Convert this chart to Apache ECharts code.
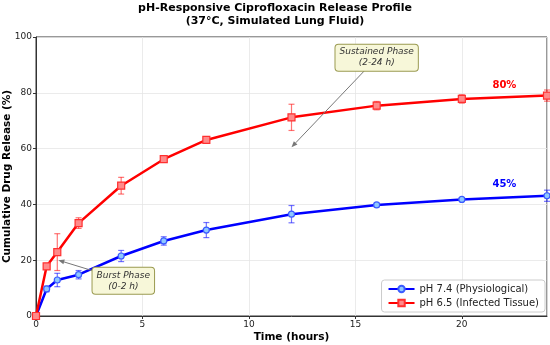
<!DOCTYPE html>
<html><head><meta charset="utf-8">
<script src="https://cdn.jsdelivr.net/npm/echarts@6/dist/echarts.min.js"></script>
<style>html,body{margin:0;padding:0;background:#fff}#c{width:550px;height:345px}</style>
</head><body><div id="c"></div>
<script>
const times = [0, 0.5, 1, 2, 4, 6, 8, 12, 16, 20, 24];
const ph74 = [0, 9.7, 12.9, 14.8, 21.5, 26.9, 30.8, 36.5, 39.8, 41.8, 43.1];
const ph74Err = [0, 1.0, 2.4, 1.5, 2.0, 1.5, 2.7, 3.1, 0.6, 0.6, 2.0];
const ph65 = [0, 17.8, 22.9, 33.3, 46.7, 56.2, 63.1, 71.2, 75.4, 77.8, 79.0];
const ph65Err = [0, 1.0, 6.6, 1.9, 3.0, 1.0, 1.0, 4.7, 1.5, 1.5, 2.0];
const xTicks = [0, 5, 10, 15, 20];
const yTicks = [0, 20, 40, 60, 80, 100];
const F = 'DejaVu Sans';

function pairs(v){ return times.map((t,i)=>[t, v[i]]); }
function errData(v, e){ return times.map((t,i)=>[t, v[i]-e[i], v[i]+e[i]]); }
function errSeries(v, e, color){
  return {
    type:'custom', z:3, silent:true,
    data: errData(v,e),
    renderItem(params, api){
      const x = api.value(0);
      const lo = api.coord([x, api.value(1)]);
      const hi = api.coord([x, api.value(2)]);
      const w = 3;
      const st = {stroke:color, lineWidth:1.2, opacity:0.55};
      return {type:'group', children:[
        {type:'line', shape:{x1:lo[0],y1:lo[1],x2:hi[0],y2:hi[1]}, style:st},
        {type:'line', shape:{x1:lo[0]-w,y1:lo[1],x2:lo[0]+w,y2:lo[1]}, style:st},
        {type:'line', shape:{x1:hi[0]-w,y1:hi[1],x2:hi[0]+w,y2:hi[1]}, style:st}
      ]};
    }
  };
}

const chart = echarts.init(document.getElementById('c'));
chart.setOption({
  animation:false,
  title:{text:'pH-Responsive Ciprofloxacin Release Profile\n(37°C, Simulated Lung Fluid)', left:'center', top:-3,
    textStyle:{fontFamily:F, fontSize:11, fontWeight:'bold', color:'#000', lineHeight:13}},
  grid:{left:36, right:3, top:37, bottom:29, containLabel:false, outerBoundsMode:'none',
    show:true, borderColor:'#333', borderWidth:1, backgroundColor:'transparent'},
  legend:{right:5, bottom:33, orient:'vertical', itemWidth:26, itemHeight:8, itemGap:4,
    backgroundColor:'rgba(255,255,255,0.85)', borderColor:'#ccc', borderWidth:1, borderRadius:3, padding:[4,6,4,6],
    textStyle:{fontFamily:F, fontSize:10, color:'#222'},
    data:['pH 7.4 (Physiological)','pH 6.5 (Infected Tissue)']},
  xAxis:{type:'value', min:0, max:24, interval:5,
    name:'Time (hours)', nameLocation:'middle', nameGap:16, nameMoveOverlap:false,
    nameTextStyle:{fontFamily:F, fontSize:10.5, fontWeight:'bold', color:'#000'},
    axisLine:{show:true, lineStyle:{color:'#333'}}, axisTick:{show:true, length:3, lineStyle:{color:'#333'}},
    axisLabel:{fontFamily:F, fontSize:9, color:'#222', margin:4, showMaxLabel:false},
    splitLine:{show:true, lineStyle:{color:'#e6e6e6', width:0.8}}},
  yAxis:{type:'value', min:0, max:100, interval:20,
    name:'Cumulative Drug Release (%)', nameLocation:'middle', nameGap:23, nameMoveOverlap:false,
    nameTextStyle:{fontFamily:F, fontSize:10.5, fontWeight:'bold', color:'#000'},
    axisLine:{show:true, lineStyle:{color:'#333'}}, axisTick:{show:true, length:3, lineStyle:{color:'#333'}},
    axisLabel:{fontFamily:F, fontSize:9, color:'#222', margin:4},
    splitLine:{show:true, lineStyle:{color:'#e6e6e6', width:0.8}}},
  series:[
    errSeries(ph74, ph74Err, '#0000ff'),
    errSeries(ph65, ph65Err, '#ff0000'),
    {name:'pH 7.4 (Physiological)', type:'line', data:pairs(ph74), z:4,
      symbol:'circle', symbolSize:6, showAllSymbol:true,
      lineStyle:{color:'#0000ff', width:2.5},
      itemStyle:{color:'#8ec8ff', borderColor:'#3b5bff', borderWidth:1.2}},
    {name:'pH 6.5 (Infected Tissue)', type:'line', data:pairs(ph65), z:4,
      symbol:'rect', symbolSize:7, showAllSymbol:true,
      lineStyle:{color:'#ff0000', width:2.5},
      itemStyle:{color:'#ff8a8a', borderColor:'#ff3030', borderWidth:1.2}}
  ]
});

function px(p){ return chart.convertToPixel({gridIndex:0}, p); }
function box(cx, cy, text){
  return {type:'text', x:cx, y:cy, z:20,
    style:{text:text, fontFamily:F, fontSize:9, fontStyle:'italic', fill:'#333', align:'center', verticalAlign:'middle',
      lineHeight:11, backgroundColor:'#f7f7d9', borderColor:'#9a9a50', borderWidth:1, borderRadius:3, padding:[2,4,2,4]}};
}
function arrow(a, b){
  const ang = Math.atan2(b[1]-a[1], b[0]-a[0]);
  const L = 6, W = 2.5;
  const bx = b[0]-L*Math.cos(ang), by = b[1]-L*Math.sin(ang);
  return [
    {type:'line', z:19, shape:{x1:a[0],y1:a[1],x2:bx,y2:by}, style:{stroke:'#777', lineWidth:1}},
    {type:'polygon', z:19, shape:{points:[[b[0],b[1]],[bx+W*Math.sin(ang), by-W*Math.cos(ang)],[bx-W*Math.sin(ang), by+W*Math.cos(ang)]]}, style:{fill:'#777'}}
  ];
}
const burstBox = px([4.1, 12.6]);
const sustBox = px([16.0, 92.6]);
const els = [];
els.push(...arrow(px([2.8, 15.9]), px([1.05, 20])));
els.push(...arrow(px([15.5, 88.5]), px([12, 60.5])));
els.push(box(burstBox[0], burstBox[1], 'Burst Phase\n(0-2 h)'));
els.push(box(sustBox[0], sustBox[1], 'Sustained Phase\n(2-24 h)'));
const l80 = px([22.0, 82.8]); const l45 = px([22.0, 47.3]);
els.push({type:'text', x:l80[0], y:l80[1], z:20, style:{text:'80%', fontFamily:F, fontSize:10, fontWeight:'bold', fill:'#ff0000', align:'center', verticalAlign:'middle'}});
els.push({type:'text', x:l45[0], y:l45[1], z:20, style:{text:'45%', fontFamily:F, fontSize:10, fontWeight:'bold', fill:'#0000ff', align:'center', verticalAlign:'middle'}});
chart.setOption({graphic:{elements:els}});
</script></body></html>
